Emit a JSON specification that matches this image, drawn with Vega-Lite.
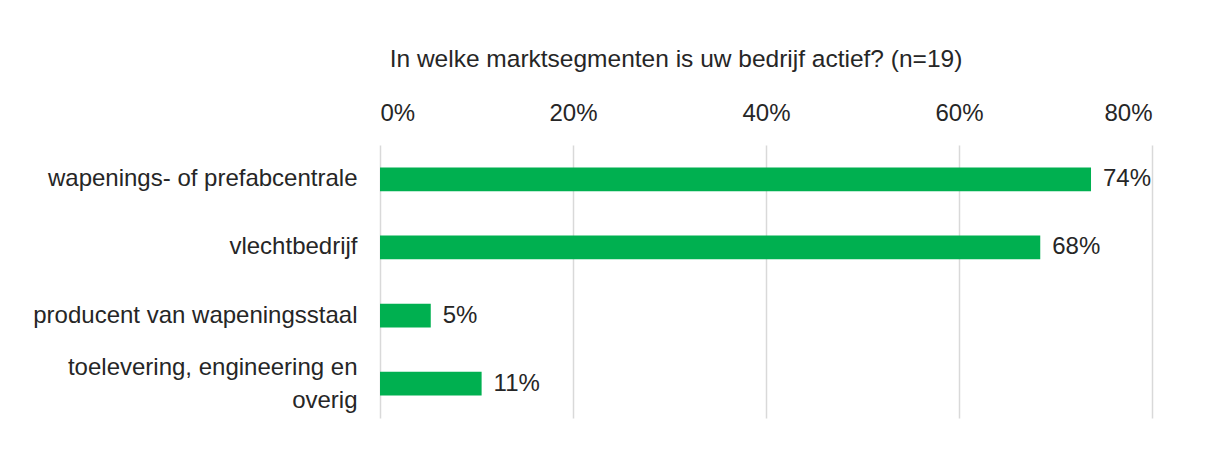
{
  "$schema": "https://vega.github.io/schema/vega-lite/v6.json",
  "width": 772,
  "height": 273,
  "autosize": {"type": "none"},
  "padding": {"left": 380, "top": 145, "right": 54, "bottom": 48},
  "background": "white",
  "title": {
    "text": "In welke marktsegmenten is uw bedrijf actief? (n=19)",
    "anchor": "middle",
    "dx": -90,
    "offset": 29,
    "font": "Liberation Sans",
    "fontSize": 24.5,
    "fontWeight": "normal",
    "color": "#262626"
  },
  "data": {
    "values": [
      {"segment": "wapenings- of prefabcentrale", "share": 0.7368, "label": "74%"},
      {"segment": "vlechtbedrijf", "share": 0.6842, "label": "68%"},
      {"segment": "producent van wapeningsstaal", "share": 0.0526, "label": "5%"},
      {"segment": "toelevering, engineering en overig", "share": 0.1053, "label": "11%"}
    ]
  },
  "encoding": {
    "y": {
      "field": "segment",
      "type": "nominal",
      "sort": null,
      "title": null,
      "scale": {"paddingInner": 0.65, "paddingOuter": 0.33},
      "axis": {
        "domain": false,
        "ticks": false,
        "labelPadding": 23,
        "labelFont": "Liberation Sans",
        "labelFontSize": 24,
        "labelColor": "#262626",
        "labelLimit": 400,
        "labelLineHeight": 33,
        "labelOffset": {"condition": {"test": "datum.value == 'toelevering, engineering en overig'", "value": -16}, "value": 0},
        "labelExpr": "datum.label == 'toelevering, engineering en overig' ? ['toelevering, engineering en', 'overig'] : datum.label"
      }
    }
  },
  "layer": [
    {
      "mark": {"type": "bar", "color": "#00B050"},
      "encoding": {
        "x": {
          "field": "share",
          "type": "quantitative",
          "title": null,
          "scale": {"domain": [0, 0.8], "nice": false},
          "axis": {
            "orient": "top",
            "format": ".0%",
            "values": [0, 0.2, 0.4, 0.6, 0.8],
            "domain": false,
            "ticks": false,
            "grid": true,
            "gridColor": "#d9d9d9",
            "gridWidth": 1.5,
            "labelPadding": 20,
            "labelFont": "Liberation Sans",
            "labelFontSize": 24,
            "labelColor": "#262626"
          }
        }
      }
    },
    {
      "mark": {"type": "text", "align": "left", "dx": 12, "font": "Liberation Sans", "fontSize": 24, "color": "#262626"},
      "encoding": {
        "x": {"field": "share", "type": "quantitative"},
        "text": {"field": "label"}
      }
    }
  ],
  "config": {"view": {"stroke": null}}
}
